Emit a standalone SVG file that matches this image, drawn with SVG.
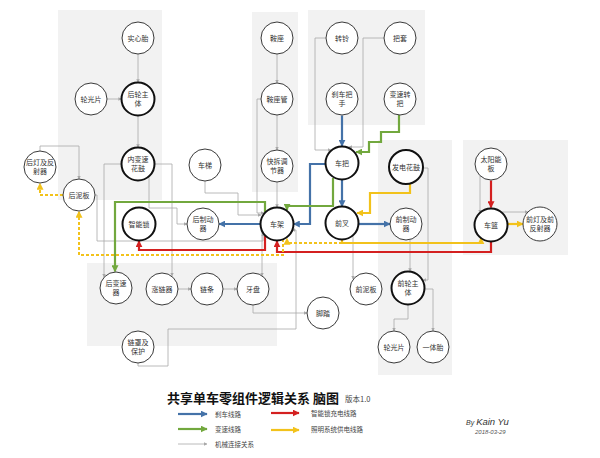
<svg xmlns="http://www.w3.org/2000/svg" width="600" height="458" viewBox="0 0 600 458">
<style>
.panel{fill:#f2f2f2}
.n{fill:#fff;stroke:#3a3a3a;stroke-width:1}
.k{fill:#fff;stroke:#111;stroke-width:2}
.t{font-family:"Noto Sans CJK SC","Noto Sans",sans-serif;font-size:7px;fill:#333;text-anchor:middle}
.g{fill:none;stroke:#a8a8a8;stroke-width:0.8}
.b{fill:none;stroke:#4472a8;stroke-width:2.2}
.gr{fill:none;stroke:#72a83e;stroke-width:2.2}
.r{fill:none;stroke:#d42020;stroke-width:2.2}
.y{fill:none;stroke:#f2c21b;stroke-width:2.2}
.yd{fill:none;stroke:#f2c21b;stroke-width:2;stroke-dasharray:3 2}
.lg{font-family:"Noto Sans CJK SC","Noto Sans",sans-serif;font-size:6.5px;fill:#444}
</style>
<defs>
<marker id="mb" viewBox="0 0 10 10" refX="9" refY="5" markerWidth="7" markerHeight="7" markerUnits="userSpaceOnUse" orient="auto"><path d="M0,0L10,5L0,10z" fill="#4472a8"/></marker>
<marker id="mg" viewBox="0 0 10 10" refX="9" refY="5" markerWidth="7" markerHeight="7" markerUnits="userSpaceOnUse" orient="auto"><path d="M0,0L10,5L0,10z" fill="#72a83e"/></marker>
<marker id="mr" viewBox="0 0 10 10" refX="9" refY="5" markerWidth="7" markerHeight="7" markerUnits="userSpaceOnUse" orient="auto"><path d="M0,0L10,5L0,10z" fill="#d42020"/></marker>
<marker id="my" viewBox="0 0 10 10" refX="9" refY="5" markerWidth="7" markerHeight="7" markerUnits="userSpaceOnUse" orient="auto"><path d="M0,0L10,5L0,10z" fill="#f2c21b"/></marker>
<marker id="mk" viewBox="0 0 10 10" refX="9" refY="5" markerWidth="3.5" markerHeight="3.5" markerUnits="userSpaceOnUse" orient="auto"><path d="M0,0L10,5L0,10z" fill="#a8a8a8"/></marker>
</defs>
<rect width="600" height="458" fill="#fff"/>
<g id="panels">
<rect class="panel" x="58" y="10" width="104" height="190"/>
<rect class="panel" x="252" y="12" width="46" height="180"/>
<rect class="panel" x="308" y="10" width="117" height="115"/>
<rect class="panel" x="378" y="140" width="74" height="235"/>
<rect class="panel" x="463" y="140" width="105" height="115"/>
<rect class="panel" x="87" y="263" width="190" height="83"/>
</g>
<g id="connectors">
<g marker-end="url(#mk)">
<path class="g" d="M138,54V82.5"/>
<path class="g" d="M107,99H121.5"/>
<path class="g" d="M138,115.5V147.5"/>
<path class="g" d="M277,54V83"/>
<path class="g" d="M277,115V150"/>
<path class="g" d="M277,182V207.5"/>
<path class="g" d="M326,38H315V150H331"/>
<path class="g" d="M384,38H363V147H349"/>
<path class="g" d="M261,99H257V213H264"/>
<path class="g" d="M205,181V193H238V215H261"/>
<path class="g" d="M121.5,164H104V277"/>
<path class="g" d="M149,176V208H177V224H187"/>
<path class="g" d="M154.5,164H172V276"/>
<path class="g" d="M95,195H97V241H263V233"/>
<path class="g" d="M353,235V279"/>
<path class="g" d="M423,168H428V280H423"/>
<path class="g" d="M410,239.5V271.5"/>
<path class="g" d="M424.5,289H433V331"/>
<path class="g" d="M408,304.5V319H394V331"/>
<path class="g" d="M480,176V213"/>
<path class="g" d="M502,212H528"/>
<path class="g" d="M178,289H191"/>
<path class="g" d="M223,289H237"/>
<path class="g" d="M253,305V313H307"/>
<path class="g" d="M138,363V366H168V329H296V230H292"/>
<path class="g" d="M262,231V276"/>
<path class="g" d="M40,151V146H79V179"/>
</g>
<path class="b" d="M342,115.5V146" marker-end="url(#mb)"/>
<path class="b" d="M325.5,164H310V224H293.5" marker-end="url(#mb)"/>
<path class="b" d="M342,180V206.5" marker-end="url(#mb)"/>
<path class="b" d="M358.5,224H390" marker-end="url(#mb)"/>
<path class="b" d="M260.5,224H219" marker-end="url(#mb)"/>
<path class="gr" d="M399,115V132H381V142H369V152H356" marker-end="url(#mg)"/>
<path class="gr" d="M333,178V206H287V210" marker-end="url(#mg)"/>
<path class="gr" d="M265,212V202H115V271.5" marker-end="url(#mg)"/>
<path class="r" d="M491,180.5V207.5" marker-end="url(#mr)"/>
<path class="r" d="M491,241.5V252H277V241" marker-end="url(#mr)"/>
<path class="r" d="M265,236V250H139V241" marker-end="url(#mr)"/>
<path class="y" d="M410,184V193H370V213H357" marker-end="url(#my)"/>
<path class="y" d="M342,240V243H481V238" marker-end="url(#my)"/>
<path class="y" d="M507.5,224H523" marker-end="url(#my)"/>
<path class="yd" d="M342,243H287V238.5" marker-end="url(#my)"/>
<path class="yd" d="M283,239V255H79V211.5" marker-end="url(#my)"/>
<path class="yd" d="M63,195H40V183.5" marker-end="url(#my)"/>
</g>
<g id="n-shixintai"><circle class="n" cx="138" cy="38" r="16"/><text class="t" x="138" y="40.5">实心胎</text></g>
<g id="n-lunguangpian-l"><circle class="n" cx="91" cy="99" r="16"/><text class="t" x="91" y="101.5">轮光片</text></g>
<g id="n-houlunzhuti"><circle class="k" cx="138" cy="99" r="16.5"/><text class="t" x="138" y="97">后轮主</text><text class="t" x="138" y="106">体</text></g>
<g id="n-neibiansu"><circle class="k" cx="138" cy="164" r="16.5"/><text class="t" x="138" y="162">内变速</text><text class="t" x="138" y="171">花鼓</text></g>
<g id="n-houdeng"><circle class="n" cx="40" cy="167" r="16"/><text class="t" x="40" y="165">后灯及反</text><text class="t" x="40" y="174">射器</text></g>
<g id="n-houniban"><circle class="n" cx="79" cy="195" r="16"/><text class="t" x="79" y="197.5">后泥板</text></g>
<g id="n-zhinengsuo"><circle class="k" cx="139" cy="224" r="16.5"/><text class="t" x="139" y="226.5">智能锁</text></g>
<g id="n-cheti"><circle class="n" cx="205" cy="165" r="16"/><text class="t" x="205" y="167.5">车梯</text></g>
<g id="n-houzhidong"><circle class="n" cx="203" cy="224" r="16"/><text class="t" x="203" y="222">后制动</text><text class="t" x="203" y="231">器</text></g>
<g id="n-anzuo"><circle class="n" cx="277" cy="38" r="16"/><text class="t" x="277" y="40.5">鞍座</text></g>
<g id="n-anzuoguan"><circle class="n" cx="277" cy="99" r="16"/><text class="t" x="277" y="101.5">鞍座管</text></g>
<g id="n-kuaichai"><circle class="n" cx="277" cy="166" r="16"/><text class="t" x="277" y="164">快拆调</text><text class="t" x="277" y="173">节器</text></g>
<g id="n-chejia"><circle class="k" cx="277" cy="224" r="16.5"/><text class="t" x="277" y="226.5">车架</text></g>
<g id="n-zhuanling"><circle class="n" cx="342" cy="38" r="16"/><text class="t" x="342" y="40.5">转铃</text></g>
<g id="n-batao"><circle class="n" cx="400" cy="38" r="16"/><text class="t" x="400" y="40.5">把套</text></g>
<g id="n-shache"><circle class="n" cx="342" cy="99" r="16"/><text class="t" x="342" y="97">刹车把</text><text class="t" x="342" y="106">手</text></g>
<g id="n-biansuzhuanba"><circle class="n" cx="400" cy="99" r="16"/><text class="t" x="400" y="97">变速转</text><text class="t" x="400" y="106">把</text></g>
<g id="n-cheba"><circle class="k" cx="342" cy="163" r="16.5"/><text class="t" x="342" y="165.5">车把</text></g>
<g id="n-qiancha"><circle class="k" cx="342" cy="223" r="16.5"/><text class="t" x="342" y="225.5">前叉</text></g>
<g id="n-fadian"><circle class="k" cx="406" cy="167" r="17"/><text class="t" x="406" y="169.5">发电花鼓</text></g>
<g id="n-qianzhidong"><circle class="n" cx="406" cy="224" r="16"/><text class="t" x="406" y="222">前制动</text><text class="t" x="406" y="231">器</text></g>
<g id="n-taiyangneng"><circle class="n" cx="491" cy="164" r="16"/><text class="t" x="491" y="162">太阳能</text><text class="t" x="491" y="171">板</text></g>
<g id="n-chelan"><circle class="k" cx="491" cy="225" r="16.5"/><text class="t" x="491" y="227.5">车篮</text></g>
<g id="n-qiandeng"><circle class="n" cx="540" cy="224" r="17"/><text class="t" x="540" y="222">前灯及前</text><text class="t" x="540" y="231">反射器</text></g>
<g id="n-houbiansu"><circle class="n" cx="116" cy="288" r="16"/><text class="t" x="116" y="286">后变速</text><text class="t" x="116" y="295">器</text></g>
<g id="n-zhanglian"><circle class="n" cx="162" cy="289" r="16"/><text class="t" x="162" y="291.5">涨链器</text></g>
<g id="n-liantiao"><circle class="n" cx="207" cy="289" r="16"/><text class="t" x="207" y="291.5">链条</text></g>
<g id="n-yapan"><circle class="n" cx="253" cy="289" r="16"/><text class="t" x="253" y="291.5">牙盘</text></g>
<g id="n-jiaota"><circle class="n" cx="323" cy="313" r="16"/><text class="t" x="323" y="315.5">脚踏</text></g>
<g id="n-lianzhao"><circle class="n" cx="138" cy="347" r="16"/><text class="t" x="138" y="345">链罩及</text><text class="t" x="138" y="354">保护</text></g>
<g id="n-qianniban"><circle class="n" cx="366" cy="289" r="16"/><text class="t" x="366" y="291.5">前泥板</text></g>
<g id="n-qianlunzhuti"><circle class="k" cx="408" cy="288" r="16.5"/><text class="t" x="408" y="286">前轮主</text><text class="t" x="408" y="295">体</text></g>
<g id="n-lunguangpian-r"><circle class="n" cx="394" cy="347" r="16"/><text class="t" x="394" y="349.5">轮光片</text></g>
<g id="n-yititai"><circle class="n" cx="433" cy="347" r="16"/><text class="t" x="433" y="349.5">一体胎</text></g>
<g id="title">
<text x="167" y="402.5" font-family="'Noto Sans CJK SC','Noto Sans',sans-serif" font-size="13" font-weight="bold" fill="#111">共享单车零组件逻辑关系 脑图</text>
<text x="345" y="402" font-family="'Noto Sans CJK SC','Noto Sans',sans-serif" font-size="7.5" fill="#444">版本1.0</text>
</g>
<g id="legend">
<path d="M178,414H207" class="b" marker-end="url(#mb)"/>
<text class="lg" x="215" y="416.5">刹车线路</text>
<path d="M178,429H207" class="gr" marker-end="url(#mg)"/>
<text class="lg" x="215" y="431.5">变速线路</text>
<path d="M178,444H207" class="g" marker-end="url(#mk)"/>
<text class="lg" x="215" y="446.5">机械连接关系</text>
<path d="M271,413H299" class="r" marker-end="url(#mr)"/>
<text class="lg" x="311" y="415.5">智能锁充电线路</text>
<path d="M271,430H299" class="y" marker-end="url(#my)"/>
<text class="lg" x="311" y="431.5">照明系统供电线路</text>
</g>
<g id="credit" font-family="'Liberation Sans',Arial,sans-serif" font-style="italic" fill="#333">
<text x="466" y="425" font-size="7">By <tspan font-size="9.5">Kain Yu</tspan></text>
<text x="475" y="434" font-size="6" fill="#555">2018-03-29</text>
</g>
</svg>
